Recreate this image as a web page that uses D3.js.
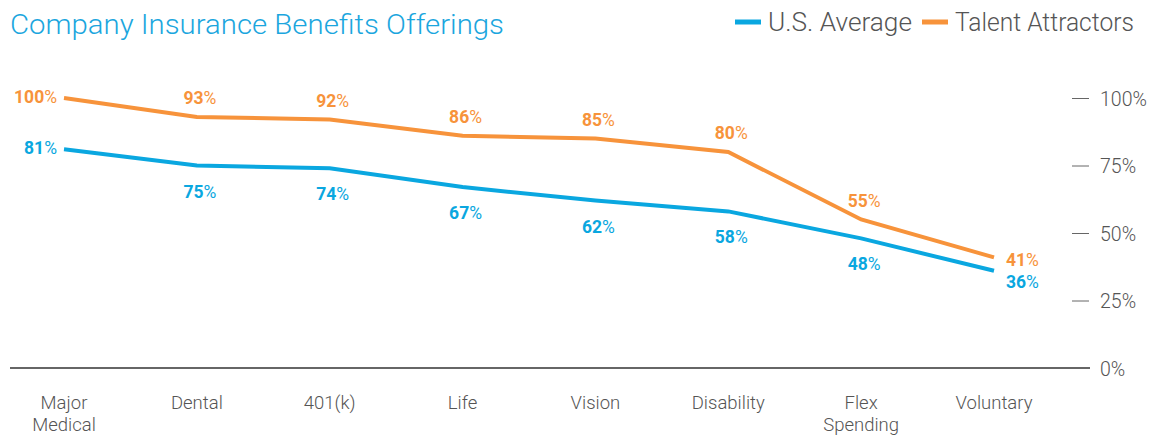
<!DOCTYPE html>
<html>
<head>
<meta charset="utf-8">
<script src="https://cdn.jsdelivr.net/npm/d3@7"></script>
<style>
  html, body { margin: 0; padding: 0; background: #fff; }
  svg { display: block; }
</style>
</head>
<body>
<script>
// --- Data ---
const categories = ["Major Medical", "Dental", "401(k)", "Life", "Vision", "Disability", "Flex Spending", "Voluntary"];
const usAverage = [81, 75, 74, 67, 62, 58, 48, 36];
const talentAttractors = [100, 93, 92, 86, 85, 80, 55, 41];
const yTicks = [0, 25, 50, 75, 100];
const seriesNames = ["U.S. Average", "Talent Attractors"];

// --- Configuration ---
const width = 1152;
const height = 436;
const blue = "#0aa7e0";
const orange = "#f7933b";
const grey = "#555";
const lightFont = "Roboto, 'Liberation Sans', sans-serif";

const svg = d3.select("body").append("svg")
  .attr("width", width)
  .attr("height", height);

// scales
const x = d3.scalePoint().domain(categories).range([64, 994]);
const y = d3.scaleLinear().domain([0, 100]).range([368, 98]);

// --- Title ---
svg.append("text")
  .attr("x", 10)
  .attr("y", 34)
  .attr("fill", "#1ba6de")
  .attr("textLength", 494)
  .attr("lengthAdjust", "spacingAndGlyphs")
  .style("font", `300 28px ${lightFont}`)
  .text("Company Insurance Benefits Offerings");

// --- Legend ---
const legendX = [735, 922];
const legendW = [144, 179];
[blue, orange].forEach((c, i) => {
  svg.append("line")
    .attr("x1", legendX[i]).attr("x2", legendX[i] + 26)
    .attr("y1", 22).attr("y2", 22)
    .attr("stroke", c).attr("stroke-width", 5);
  svg.append("text")
    .attr("x", legendX[i] + 33)
    .attr("y", 31)
    .attr("fill", grey)
    .attr("textLength", legendW[i])
    .attr("lengthAdjust", "spacingAndGlyphs")
    .style("font", `300 25px ${lightFont}`)
    .text(seriesNames[i]);
});

// --- Y axis (right side) ---
const yAxis = svg.append("g")
  .attr("transform", "translate(1072,0)")
  .call(d3.axisRight(y).tickValues(yTicks).tickSize(17).tickPadding(10).tickFormat(d => d + "%"));
yAxis.select(".domain").remove();
yAxis.selectAll(".tick line")
  .attr("stroke", "#666")
  .attr("stroke-width", 1)
  .attr("display", d => d === 0 ? "none" : null);
yAxis.selectAll(".tick text")
  .attr("fill", grey)
  .attr("x", 28)
  .attr("dy", "0.36em")
  .style("font", `300 19.5px ${lightFont}`);

// baseline
svg.append("line")
  .attr("x1", 10).attr("x2", 1090)
  .attr("y1", y(0)).attr("y2", y(0))
  .attr("stroke", "#333").attr("stroke-width", 1.5);

// --- Category labels ---
const catLabels = svg.append("g")
  .selectAll("text")
  .data(categories)
  .join("text")
  .attr("x", d => x(d))
  .attr("y", 409)
  .attr("text-anchor", "middle")
  .attr("fill", grey)
  .style("font", `300 18.5px ${lightFont}`);
catLabels.each(function (d) {
  const words = d.split(" ");
  const t = d3.select(this);
  if (words.length === 1) { t.text(d); return; }
  words.forEach((w, i) => {
    t.append("tspan").attr("x", x(d)).attr("dy", i === 0 ? 0 : 22).text(w);
  });
});

// --- Lines ---
const line = d3.line()
  .x((d, i) => x(categories[i]))
  .y(d => y(d));

svg.append("path")
  .datum(talentAttractors)
  .attr("fill", "none")
  .attr("stroke", orange)
  .attr("stroke-width", 4)
  .attr("d", line);

svg.append("path")
  .datum(usAverage)
  .attr("fill", "none")
  .attr("stroke", blue)
  .attr("stroke-width", 4)
  .attr("d", line);

// --- Value labels ---
// Bold number, lighter percent sign.
function valueLabel(values, color, above) {
  const last = values.length - 1;
  const g = svg.append("g").selectAll("text")
    .data(values)
    .join("text")
    .attr("fill", color)
    .attr("text-anchor", (d, i) => i === 0 ? "end" : (i === last ? "start" : "middle"))
    .attr("x", (d, i) => {
      const cx = x(categories[i]);
      if (i === 0) return cx - 7;
      if (i === last) return cx + 12;
      return cx + 3;
    })
    .attr("y", (d, i) => {
      const cy = y(d);
      if (i === 0) return cy + 5;
      if (i === last) return above ? cy + 9 : cy + 17;
      return above ? cy - 13 : cy + 32;
    })
    .style("font", `bold 17.5px ${lightFont}`);
  g.append("tspan").text(d => d);
  g.append("tspan").style("font-weight", 400).text("%");
}
valueLabel(talentAttractors, orange, true);
valueLabel(usAverage, blue, false);
</script>
</body>
</html>
